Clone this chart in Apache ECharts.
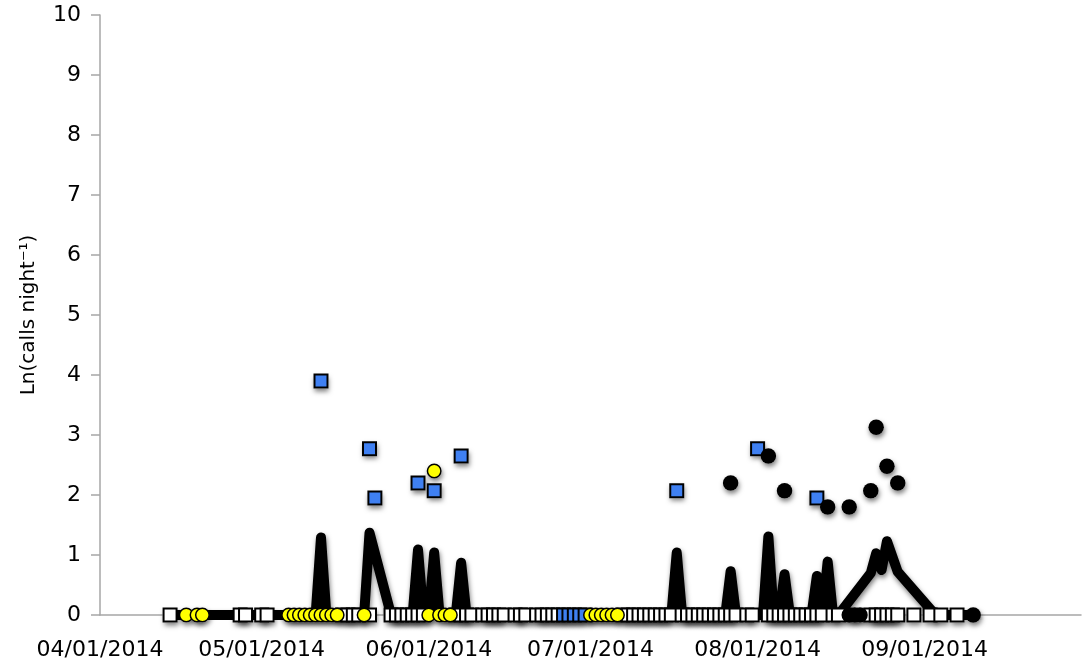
<!DOCTYPE html>
<html style="height: 100%">
<head>
    <meta charset="UTF-8">
    <title>Ln(calls night-1)</title>
</head>
<body style="height: 100%; margin: 0">
<div id="container" style="width: 1082px; height: 665px"></div>

<script type="text/javascript" src="https://cdn.jsdelivr.net/npm/echarts@6/dist/echarts.min.js"></script>
<script type="text/javascript">
    // all dates are month/day in 2014
    var tickDates = ['4/1', '5/1', '6/1', '7/1', '8/1', '9/1'];
    var tickLabels = ['04/01/2014', '05/01/2014', '06/01/2014', '07/01/2014', '08/01/2014', '09/01/2014'];
    var lastDate = '9/30';

    // thick black line
    var lineDates = ['4/14', '5/11', '5/12', '5/13', '5/20', '5/21', '5/25', '5/29', '5/30', '5/31',
        '6/1', '6/2', '6/3', '6/6', '6/7', '6/8', '7/16', '7/17', '7/18', '7/26', '7/27', '7/28',
        '8/2', '8/3', '8/4', '8/5', '8/6', '8/7', '8/11', '8/12', '8/13', '8/14', '8/15', '8/16',
        '8/22', '8/23', '8/24', '8/25', '8/27', '9/3', '9/10'];
    var lineValues = [0, 0, 1.29, 0, 0, 1.37, 0, 0, 1.09, 0,
        0, 1.04, 0, 0, 0.87, 0, 0, 1.04, 0, 0, 0.73, 0,
        0, 1.31, 0, 0, 0.68, 0, 0, 0.65, 0, 0.89, 0, 0,
        0.7, 1.03, 0.75, 1.23, 0.72, 0, 0];

    // open squares, all at 0
    var whiteDates = ['4/14', '4/27', '4/28', '5/1', '5/2', '5/16', '5/17', '5/18', '5/19', '5/21',
        '5/25', '5/26', '5/27', '5/28', '5/29', '5/30', '5/31',
        '6/6', '6/7', '6/8', '6/9', '6/11', '6/12', '6/13', '6/14', '6/15', '6/17', '6/18', '6/19',
        '6/21', '6/22', '6/23', '6/24', '6/25',
        '7/7', '7/8', '7/9', '7/10', '7/11', '7/12', '7/13', '7/14', '7/15', '7/16',
        '7/18', '7/19', '7/20', '7/21', '7/22', '7/23', '7/24', '7/25', '7/26', '7/27', '7/28',
        '7/30', '7/31', '8/3', '8/4', '8/5', '8/6', '8/7', '8/8', '8/9', '8/10', '8/11', '8/12', '8/13',
        '8/15', '8/16', '8/22', '8/23', '8/24', '8/25', '8/26', '8/27', '8/30', '9/2', '9/4', '9/7'];

    // blue squares
    var blueDates = ['5/12', '5/21', '5/22', '5/30', '6/2', '6/7', '6/26', '6/27', '6/28', '6/29', '6/30',
        '7/17', '8/1', '8/12'];
    var blueValues = [3.9, 2.77, 1.95, 2.2, 2.07, 2.65, 0, 0, 0, 0, 0, 2.07, 2.77, 1.95];

    // yellow circles
    var yellowDates = ['4/17', '4/19', '4/20', '5/6', '5/7', '5/8', '5/9', '5/10', '5/11', '5/12', '5/13',
        '5/14', '5/15', '5/20', '6/1', '6/2', '6/3', '6/4', '6/5', '7/1', '7/2', '7/3', '7/4', '7/5', '7/6'];
    var yellowValues = [0, 0, 0, 0, 0, 0, 0, 0, 0, 0, 0,
        0, 0, 0, 0, 2.4, 0, 0, 0, 0, 0, 0, 0, 0, 0];

    // black dots
    var blackDates = ['7/27', '8/3', '8/6', '8/14', '8/18', '8/18', '8/19', '8/20', '8/22', '8/23', '8/25',
        '8/27', '9/10'];
    var blackValues = [2.2, 2.65, 2.07, 1.8, 1.8, 0, 0, 0, 2.07, 3.13, 2.48, 2.2, 0];

    function dayOf(md) {
        var p = md.split('/');
        return (Date.UTC(2014, +p[0] - 1, +p[1]) - Date.UTC(2014, 3, 1)) / 86400000;
    }

    function pairs(dates, values) {
        return dates.map(function (d, i) {
            return [dayOf(d), values ? values[i] : 0];
        });
    }

    var tickDays = tickDates.map(dayOf);
    var axisGray = '#a6a6a6';
    var font = 'DejaVu Sans';
    var shadow = {shadowColor: 'rgba(0,0,0,0.5)', shadowBlur: 5, shadowOffsetX: 1, shadowOffsetY: 3};

    // markers: [data, symbol, size, fill, border width]
    var markers = [
        [pairs(whiteDates), 'rect', 13, '#ffffff', 2],
        [pairs(blueDates, blueValues), 'rect', 13, '#3f80f2', 2],
        [pairs(yellowDates, yellowValues), 'circle', 13.5, '#ffff00', 1.5],
        [pairs(blackDates, blackValues), 'circle', 15.5, '#000000', 0]
    ];

    var series = [{
        type: 'line',
        z: 2,
        data: pairs(lineDates, lineValues),
        showSymbol: false,
        lineStyle: Object.assign({color: '#000', width: 10, cap: 'round', join: 'round'}, shadow)
    }];
    // soft shadows go in their own layer under everything, so the
    // outline of a marker never shades its own fill
    markers.forEach(function (m) {
        series.push({
            type: 'scatter',
            z: 1,
            silent: true,
            data: m[0],
            symbol: m[1],
            symbolSize: m[2] + m[4],
            itemStyle: Object.assign({color: '#ffffff', opacity: 1}, shadow)
        });
    });
    markers.forEach(function (m, i) {
        series.push({
            type: 'scatter',
            z: 3 + i,
            data: m[0],
            symbol: m[1],
            symbolSize: m[2],
            itemStyle: {color: m[3], borderColor: '#000', borderWidth: m[4], opacity: 1}
        });
    });

    var myChart = echarts.init(document.getElementById('container'));
    var option = {
        animation: false,
        grid: {left: 100, right: 1, top: 15, bottom: 50, containLabel: false},
        xAxis: {
            type: 'value',
            min: 0,
            max: dayOf(lastDate),
            splitLine: {show: false},
            axisLine: {lineStyle: {color: axisGray, width: 1.5}},
            axisTick: {show: false},
            axisLabel: {
                customValues: tickDays,
                margin: 24,
                color: '#000',
                fontFamily: font,
                fontSize: 22,
                formatter: function (v) {
                    return tickLabels[tickDays.indexOf(v)];
                }
            }
        },
        yAxis: {
            type: 'value',
            min: 0,
            max: 10,
            interval: 1,
            name: 'Ln(calls night⁻¹)',
            nameLocation: 'middle',
            nameGap: 61,
            nameTextStyle: {color: '#000', fontFamily: font, fontSize: 20},
            splitLine: {show: false},
            axisLine: {show: true, lineStyle: {color: axisGray, width: 1.5}},
            axisTick: {show: true, length: 9, lineStyle: {color: axisGray, width: 1.5}},
            axisLabel: {margin: 19, color: '#000', fontFamily: font, fontSize: 22}
        },
        series: series
    };
    myChart.setOption(option);
</script>
</body>
</html>
